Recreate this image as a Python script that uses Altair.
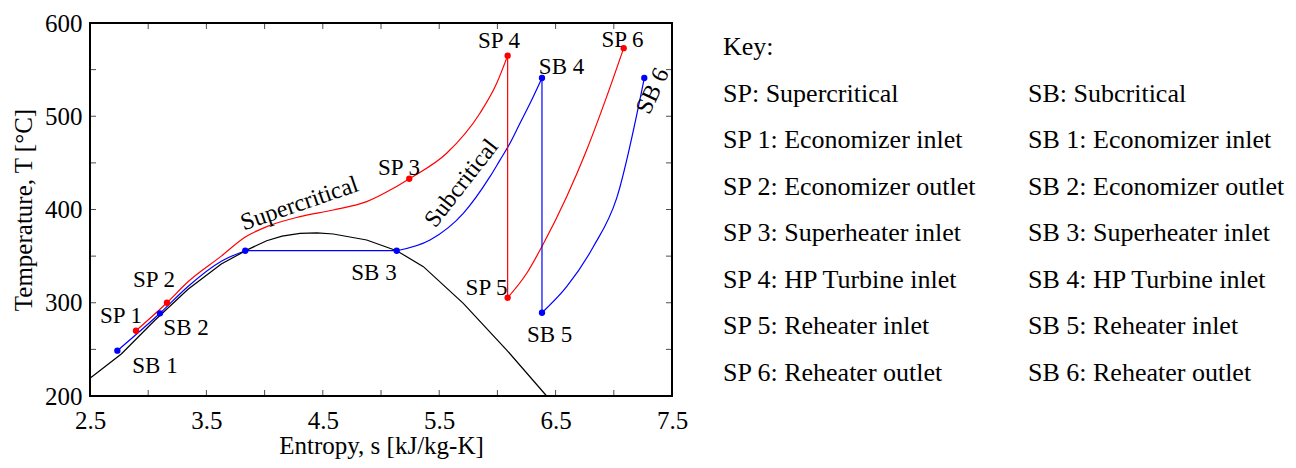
import altair as alt
import pandas as pd

FONT = "Liberation Serif"

# ---- saturation dome (black) ----
dome_s = [2.5, 2.769, 3.055, 3.342, 3.628, 3.846, 4.018, 4.15, 4.304, 4.45, 4.59, 4.877, 5.135, 5.364, 5.707, 6.08, 6.423]
dome_T = [219, 245, 281, 314.5, 341.5, 356.4, 366.5, 371.5, 374.3, 375, 373.7, 367.3, 355.8, 338.7, 299.4, 249.3, 200]

# ---- supercritical cycle (red) ----
sp1_s = [2.895, 3.161, 3.342, 3.628, 3.834, 4.018, 4.304, 4.590, 4.877, 5.106, 5.243, 5.564, 5.850, 5.994, 6.088]
sp1_T = [270, 300, 322.5, 350, 370.5, 381.6, 392.3, 399.5, 408.4, 422.7, 433, 460.3, 503.2, 535.3, 565]
sp_exp_s = [6.088, 6.088]
sp_exp_T = [565, 305.4]
sp2_s = [6.088, 6.252, 6.394, 6.595, 6.767, 6.939, 7.085]
sp2_T = [305.4, 331.6, 363, 413.7, 463.8, 521, 573]

# ---- subcritical cycle (blue) ----
sb1_s = [2.735, 3.101, 3.342, 3.628, 3.834]
sb1_T = [248.6, 288.7, 317.5, 344.5, 355.8]
sb_evap_s = [3.834, 5.135]
sb_evap_T = [355.8, 355.8]
sb2_s = [5.135, 5.421, 5.707, 5.936, 6.022, 6.108, 6.194, 6.308, 6.383]
sb2_T = [355.8, 367.3, 395.9, 435.2, 453, 471, 492.4, 521, 541]
sb_exp_s = [6.383, 6.383]
sb_exp_T = [541, 289.3]
sb3_s = [6.383, 6.595, 6.824, 7.024, 7.262]
sb3_T = [289.3, 317.2, 360, 412, 541]

# ---- state points ----
sp_pts_s = [2.895, 3.161, 5.243, 6.088, 6.088, 7.085]
sp_pts_T = [270, 300, 433, 565, 305.4, 573]
sb_pts_s = [2.735, 3.101, 3.834, 5.135, 6.383, 6.383, 7.262]
sb_pts_T = [248.6, 288.7, 355.8, 355.8, 541, 289.3, 541]

# ---- point labels (anchor in data units) ----
lab_text = ["SP 1", "SP 2", "SP 3", "SP 4", "SP 5", "SP 6",
            "SB 1", "SB 2", "SB 3", "SB 4", "SB 5"]
lab_s = [2.766, 3.050, 5.155, 6.014, 5.907, 7.075,
         3.058, 3.325, 4.940, 6.551, 6.449]
lab_T = [285.3, 324.4, 444.5, 580.2, 315.3, 581.8,
         232.7, 272.4, 331.9, 552.3, 264.9]

# rotated annotations: text, s, T
rot_text = ["Supercritical", "Subcritical", "SB 6"]
rot_s = [4.30, 5.693, 7.337]
rot_T = [406, 428, 527]
rot_angle = [341, 308, 295]

# ---- key ----
key_left = ["Key:", "SP: Supercritical", "SP 1: Economizer inlet", "SP 2: Economizer outlet",
            "SP 3: Superheater inlet", "SP 4: HP Turbine inlet", "SP 5: Reheater inlet",
            "SP 6: Reheater outlet"]
key_right = ["SB: Subcritical", "SB 1: Economizer inlet", "SB 2: Economizer outlet",
             "SB 3: Superheater inlet", "SB 4: HP Turbine inlet", "SB 5: Reheater inlet",
             "SB 6: Reheater outlet"]

# axis ticks
x_labels = [2.5, 3.5, 4.5, 5.5, 6.5, 7.5]
y_labels = [200, 300, 400, 500, 600]
x_minor = [3.0, 3.5, 4.0, 4.5, 5.0, 5.5, 6.0, 6.5, 7.0]
y_minor = [250, 300, 350, 400, 450, 500, 550]

# ---------------- build tables ----------------
def seg(name, cyc, s, T):
    return pd.DataFrame({"s": s, "T": T, "seg": name, "cycle": cyc, "idx": range(len(s))})

smooth_df = pd.concat([
    seg("sp1", "SP", sp1_s, sp1_T), seg("sp2", "SP", sp2_s, sp2_T),
    seg("sb1", "SB", sb1_s, sb1_T), seg("sb2", "SB", sb2_s, sb2_T), seg("sb3", "SB", sb3_s, sb3_T),
])
straight_df = pd.concat([
    seg("dome", "dome", dome_s, dome_T),
    seg("spx", "SP", sp_exp_s, sp_exp_T),
    seg("sbe", "SB", sb_evap_s, sb_evap_T), seg("sbx", "SB", sb_exp_s, sb_exp_T),
])
pts_df = pd.concat([
    pd.DataFrame({"s": sp_pts_s, "T": sp_pts_T, "cycle": "SP"}),
    pd.DataFrame({"s": sb_pts_s, "T": sb_pts_T, "cycle": "SB"}),
])
lab_df = pd.DataFrame({"s": lab_s, "T": lab_T, "text": lab_text})
key_df = pd.DataFrame(
    [{"col": 0, "row": i, "text": t} for i, t in enumerate(key_left)]
    + [{"col": 1, "row": i + 1, "text": t} for i, t in enumerate(key_right)]
)

color_scale = alt.Scale(domain=["SP", "SB", "dome"], range=["#ff0000", "#0000ff", "#000000"])
X = alt.X("s:Q", scale=alt.Scale(domain=[2.5, 7.5], nice=False, zero=False),
          axis=alt.Axis(values=x_labels, format=".1f", title="Entropy, s [kJ/kg-K]",
                        labelPadding=12, titlePadding=0, labelFlush=False))
Y = alt.Y("T:Q", scale=alt.Scale(domain=[200, 600], nice=False, zero=False),
          axis=alt.Axis(values=y_labels, format="d", title="Temperature, T [°C]",
                        labelPadding=8, titlePadding=8, labelFlush=False))
C = alt.Color("cycle:N", scale=color_scale, legend=None)

smooth = alt.Chart(smooth_df).mark_line(interpolate="monotone", strokeWidth=1.2).encode(
    x=X, y=Y, color=C, detail="seg:N", order="idx:Q")
straight = alt.Chart(straight_df).mark_line(strokeWidth=1.2).encode(
    x=X, y=Y, color=C, detail="seg:N", order="idx:Q")
points = alt.Chart(pts_df).mark_circle(size=40, opacity=1).encode(x=X, y=Y, color=C)
labels = alt.Chart(lab_df).mark_text(font=FONT, fontSize=23, align="center", baseline="middle",
                                     color="black").encode(x=X, y=Y, text="text:N")

rot_layers = []
for t, s, T, a in zip(rot_text, rot_s, rot_T, rot_angle):
    rot_layers.append(
        alt.Chart(pd.DataFrame({"s": [s], "T": [T], "text": [t]})).mark_text(
            font=FONT, fontSize=24, align="center", baseline="middle", angle=a, color="black"
        ).encode(x=X, y=Y, text="text:N")
    )

xt = pd.DataFrame({"s": x_minor})
yt = pd.DataFrame({"T": y_minor})
tick_kw = dict(clip=True, size=12, thickness=1, color="black")
ticks = [
    alt.Chart(xt).mark_tick(orient="vertical", **tick_kw).encode(x=X, y=alt.datum(200)),
    alt.Chart(xt).mark_tick(orient="vertical", **tick_kw).encode(x=X, y=alt.datum(600)),
    alt.Chart(yt).mark_tick(orient="horizontal", **tick_kw).encode(y=Y, x=alt.datum(2.5)),
    alt.Chart(yt).mark_tick(orient="horizontal", **tick_kw).encode(y=Y, x=alt.datum(7.5)),
]

plot = alt.layer(smooth, straight, points, labels, *rot_layers, *ticks)

key = alt.Chart(key_df).mark_text(font=FONT, fontSize=26, align="left", baseline="middle",
                                  color="black").encode(
    x=alt.X("col:Q", scale=alt.Scale(domain=[0, 1], range=[633, 938]), axis=None),
    y=alt.Y("row:Q", scale=alt.Scale(domain=[0, 7], range=[24, 350]), axis=None),
    text="text:N",
)

chart = alt.layer(plot, key).resolve_scale(x="independent", y="independent").properties(
    width=582, height=373,
    autosize=alt.AutoSizeParams(type="none"),
    padding={"left": 82, "top": 15, "right": 616, "bottom": 64},
).configure_view(stroke="black", strokeWidth=2).configure_axis(
    labelFont=FONT, labelFontSize=25, labelColor="black",
    titleFont=FONT, titleFontSize=25, titleFontWeight="normal", titleColor="black",
    ticks=False, domain=False, grid=False,
)

chart.save("out.html", embed_options={"renderer": "svg", "actions": False})
